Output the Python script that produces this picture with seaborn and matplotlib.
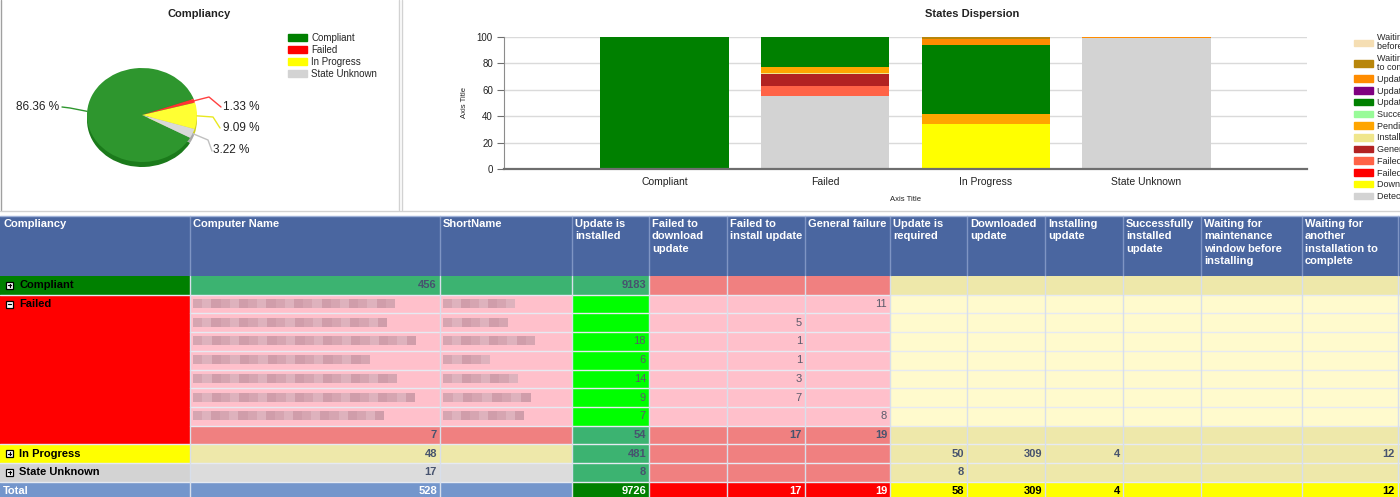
import numpy as np
import pandas as pd
import seaborn as sns
import matplotlib.pyplot as plt
from matplotlib.patches import Rectangle, Patch

# ---------------- data ----------------
groups = ['Compliant', 'Failed', 'In Progress', 'State Unknown']
group_computers = [456, 7, 48, 17]
group_colors = ['#008000', '#FF0000', '#FFFF00', '#D3D3D3']
pie_colors = ['#2E962E', '#FF3333', '#FFFF33', '#D9D9D9']
pie_rim_colors = ['#1B7A1B', '#C41E1E', '#CFCF1F', '#A8A8A8']

# states in stacking order (bottom -> top); legend shows them reversed
states = ['Detection state unknown', 'Downloaded update', 'Failed to download update',
          'Failed to install update', 'General failure', 'Installing update',
          'Pending system restart', 'Successfully installed update', 'Update is installed',
          'Update is not required', 'Update is required',
          'Waiting for another installation\nto complete',
          'Waiting for maintenance window\nbefore installing']
state_colors = ['#D3D3D3', '#FFFF00', '#FF0000', '#FF6347', '#B22222', '#F0E68C',
                '#FFA500', '#98FB98', '#008000', '#800080', '#FF8C00', '#B8860B', '#F5DEB3']
pct_compliant = [0, 0, 0, 0, 0, 0, 0, 0, 100, 0, 0, 0, 0]
pct_failed = [55.5, 0, 0, 7.5, 9, 1, 4, 0, 23, 0, 0, 0, 0]
pct_in_progress = [0, 33.8, 0, 0, 0, 0, 8, 0, 52, 0, 4.5, 1.7, 0]
pct_unknown = [99.6, 0, 0, 0, 0, 0, 0, 0, 0, 0, 0.4, 0, 0]

table_header = ['Compliancy', 'Computer Name', 'ShortName', 'Update is\ninstalled',
                'Failed to\ndownload\nupdate', 'Failed to\ninstall update', 'General failure',
                'Update is\nrequired', 'Downloaded\nupdate', 'Installing\nupdate',
                'Successfully\ninstalled\nupdate', 'Waiting for\nmaintenance\nwindow before\ninstalling',
                'Waiting for\nanother\ninstallation to\ncomplete']
N = None
compliant_vals = [9183, N, N, N, N, N, N, N, N, N]
failed_detail_vals = [
    [N, N, N, 11, N, N, N, N, N, N],
    [N, N, 5, N, N, N, N, N, N, N],
    [18, N, 1, N, N, N, N, N, N, N],
    [6, N, 1, N, N, N, N, N, N, N],
    [14, N, 3, N, N, N, N, N, N, N],
    [9, N, 7, N, N, N, N, N, N, N],
    [7, N, N, 8, N, N, N, N, N, N],
]
failed_total_vals = [54, N, 17, 19, N, N, N, N, N, N]
in_progress_vals = [481, N, N, N, 50, 309, 4, N, N, 12]
unknown_vals = [8, N, N, N, 8, N, N, N, N, N]
total_vals = [9726, N, 17, 19, 58, 309, 4, N, N, 12]
total_computers = 528
# widths (px) of the blurred computer names / short names
redacted_name_px = [202, 194, 223, 177, 204, 222, 191]
redacted_short_px = [72, 65, 92, 47, 75, 88, 81]

# ---------------- style ----------------
sns.set_theme(style='white')
plt.rcParams['font.family'] = ['Liberation Sans', 'DejaVu Sans']
NARROW = ['Liberation Sans Narrow', 'Liberation Sans', 'DejaVu Sans']
W, H = 1400, 497

fig = plt.figure(figsize=(W / 100, H / 100), dpi=100)
fig.patch.set_facecolor('white')

# overlay axes in pixel units (borders + table)
ov = fig.add_axes([0, 0, 1, 1])
ov.set_xlim(0, W)
ov.set_ylim(H, 0)
ov.axis('off')

# panel borders
ov.plot([0.5, 0.5], [0, 210], color='#A0A0A0', lw=1)
ov.plot([399, 399], [0, 210], color='#D2D2D2', lw=1)
ov.plot([401.5, 401.5], [0, 210], color='#D2D2D2', lw=1)
ov.plot([0, W], [210.5, 210.5], color='#D2D2D2', lw=1)

# ---------------- table ----------------
col_edges = [0, 190, 440, 572, 649, 727, 805, 890, 967, 1045, 1123, 1201, 1302, 1398]
head_top, head_bot, rh = 216, 276, 18.7
TF = dict(fontsize=8, family=['Liberation Sans', 'DejaVu Sans'])


def cell(x0, x1, y0, y1, color, z=1):
    ov.add_patch(Rectangle((x0, y0), x1 - x0, y1 - y0, facecolor=color, edgecolor='none', zorder=z))


cell(0, W, head_top, head_bot, '#4A66A0')
for i, lab in enumerate(table_header):
    ov.text(col_edges[i] + 3, head_top + 3, lab, color='white', fontweight='bold', va='top',
            ha='left', linespacing=1.3, zorder=5, **TF)
for x in col_edges[1:]:
    ov.plot([x, x], [head_top, head_bot], color='#7F95C4', lw=1, zorder=3)

col_kind = ['ok', 'fail', 'fail', 'fail', 'prog', 'prog', 'prog', 'prog', 'prog', 'prog']
fills = {
    'summary': {'ok': '#3CB371', 'fail': '#F08080', 'prog': '#EEE8AA'},
    'detail': {'ok': '#00FF00', 'fail': '#FFC0CB', 'prog': '#FFFACD'},
}
row_kinds = ['summary'] + ['detail'] * 7 + ['summary'] * 3
row_vals = [compliant_vals] + failed_detail_vals + [failed_total_vals, in_progress_vals, unknown_vals]
row_counts = [group_computers[0]] + [None] * 7 + group_computers[1:]
name_fill = ['#3CB371'] + ['#FFC0CB'] * 7 + ['#F08080', '#EEE8AA', '#DCDCDC']
group_span = [(0, 1), (1, 9), (9, 10), (10, 11)]

for r, (kind, vals) in enumerate(zip(row_kinds, row_vals)):
    y0, y1 = head_bot + r * rh, head_bot + (r + 1) * rh
    cy = (y0 + y1) / 2
    cell(col_edges[1], col_edges[3], y0, y1, name_fill[r])
    if row_counts[r] is not None:
        ov.text(col_edges[2] - 3, cy, str(row_counts[r]), ha='right', va='center',
                color='#47536E', fontweight='bold', zorder=5, **TF)
    for j, v in enumerate(vals):
        x0 = col_edges[3 + j]
        x1 = W if 4 + j == len(col_edges) - 1 else col_edges[4 + j]
        cell(x0, x1, y0, y1, fills[kind][col_kind[j]])
        if v is not None:
            ov.text(col_edges[4 + j] - 3, cy, str(v), ha='right', va='center', zorder=5,
                    color='#47536E' if kind == 'summary' else '#5A5A6A',
                    fontweight='bold' if kind == 'summary' else 'normal', **TF)
    if kind == 'detail':
        k = r - 1
        for x_start, width in [(col_edges[1] + 3, redacted_name_px[k]), (col_edges[2] + 3, redacted_short_px[k])]:
            n_blocks = int(width // 9)
            for b in range(n_blocks):
                shade = ['#D6A5B1', '#DEB2BD', '#D09DAA'][b % 3]
                cell(x_start + b * width / n_blocks, x_start + (b + 1) * width / n_blocks,
                     cy - 5, cy + 4, shade, z=2)
    # horizontal grid line (not across the merged Compliancy cell)
    ov.plot([col_edges[1], W], [y1, y1], color='#E6EAF2', lw=1, zorder=3)

# Compliancy merged cells
for g, (a, b) in enumerate(group_span):
    y0, y1 = head_bot + a * rh, head_bot + b * rh
    cell(0, col_edges[1], y0, y1, group_colors[g])
    cy = y0 + rh / 2
    ov.add_patch(Rectangle((6, cy - 3.5), 7, 7, facecolor='white', edgecolor='black', lw=0.9, zorder=4))
    ov.plot([7.8, 11.2], [cy, cy], color='black', lw=0.9, zorder=5)
    if g != 1:
        ov.plot([9.5, 9.5], [cy - 1.8, cy + 1.8], color='black', lw=0.9, zorder=5)
    ov.text(19, cy, groups[g], ha='left', va='center', color='black', fontweight='bold', zorder=5, **TF)
    ov.plot([0, col_edges[1]], [y1, y1], color='#E6EAF2', lw=1, zorder=3)

# total row
ty0 = head_bot + 11 * rh
cell(0, col_edges[3], ty0, H + 2, '#7496CC')
ov.text(3, ty0 + rh / 2, 'Total', ha='left', va='center', color='white', fontweight='bold', zorder=5, **TF)
ov.text(col_edges[2] - 3, ty0 + rh / 2, str(total_computers), ha='right', va='center',
        color='white', fontweight='bold', zorder=5, **TF)
total_fill = {'ok': '#008000', 'fail': '#FF0000', 'prog': '#FFFF00'}
total_text = {'ok': 'white', 'fail': 'white', 'prog': 'black'}
for j, v in enumerate(total_vals):
    x0 = col_edges[3 + j]
    x1 = W if 4 + j == len(col_edges) - 1 else col_edges[4 + j]
    cell(x0, x1, ty0, H + 2, total_fill[col_kind[j]])
    if v is not None:
        ov.text(col_edges[4 + j] - 3, ty0 + rh / 2, str(v), ha='right', va='center', zorder=5,
                color=total_text[col_kind[j]], fontweight='bold', **TF)

# vertical grid lines of the body
for x in col_edges[1:]:
    ov.plot([x, x], [head_bot, H], color='#D8DFEB', lw=1, zorder=3)
ov.plot([0, W], [head_top, head_top], color='#9FB2D8', lw=1, zorder=3)

# ---------------- pie ----------------
PCX, PCY, PRX, PRY = 142, 115, 55, 47


def pie_xy(px, py):
    return (px - PCX) / PRX, (PCY - py) / PRY


ax_pie = fig.add_axes([0, 1 - 210 / H, 398 / W, 210 / H])
ax_pie.pie(group_computers, colors=pie_rim_colors, startangle=-29, counterclock=False,
           center=(0, -5 / PRY), wedgeprops=dict(linewidth=0))
wedges, _ = ax_pie.pie(group_computers, colors=pie_colors, startangle=-29, counterclock=False,
                       wedgeprops=dict(linewidth=0))
ax_pie.set_aspect('auto')
ax_pie.set_xlim(pie_xy(0, 0)[0], pie_xy(398, 0)[0])
ax_pie.set_ylim(pie_xy(0, 210)[1], pie_xy(0, 0)[1])
ax_pie.axis('off')

label_layout = [
    dict(elbow=(70, 108), end=(62, 107), text=(59, 107), ha='right', line='#2E962E'),
    dict(elbow=(209, 97), end=(221, 107), text=(223, 107), ha='left', line='#FF4040'),
    dict(elbow=(213, 117), end=(220, 128), text=(223, 128), ha='left', line='#E8E820'),
    dict(elbow=(208, 140), end=(212, 151), text=(213, 150), ha='left', line='#C0C0C0'),
]
total = sum(group_computers)
for w, n, lay in zip(wedges, group_computers, label_layout):
    th = np.deg2rad((w.theta1 + w.theta2) / 2)
    anchor = (np.cos(th), np.sin(th))
    pts = [anchor, pie_xy(*lay['elbow']), pie_xy(*lay['end'])]
    ax_pie.plot([p[0] for p in pts], [p[1] for p in pts], color=lay['line'], lw=1)
    tx, ty = pie_xy(*lay['text'])
    ax_pie.text(tx, ty, f'{n / total * 100:.2f} %', ha=lay['ha'], va='center',
                fontsize=8.5, family=NARROW, color='#222222')

fig.text(199 / W, 1 - 14 / H, 'Compliancy', ha='center', va='center', fontsize=8,
         fontweight='bold', color='#222222')
leg1 = ax_pie.legend([Patch(color=c) for c in group_colors], groups, loc='upper left',
                     bbox_to_anchor=(288 / W, 1 - 33 / H), bbox_transform=fig.transFigure,
                     frameon=False, handlelength=2.0, handleheight=0.7,
                     handletextpad=0.4, labelspacing=0.2, borderpad=0, borderaxespad=0,
                     prop=dict(family=NARROW, size=7))

# ---------------- stacked bars ----------------
bar_df = pd.DataFrame({'Compliant': pct_compliant, 'Failed': pct_failed,
                       'In Progress': pct_in_progress, 'State Unknown': pct_unknown}, index=states)
cum = bar_df.cumsum()
ax_bar = fig.add_axes([504 / W, 1 - 169 / H, (1307 - 504) / W, (169 - 37) / H])
for state, color in reversed(list(zip(states, state_colors))):
    d = pd.DataFrame({'group': groups, 'top': cum.loc[state, groups].values})
    sns.barplot(data=d, x='group', y='top', order=groups, color=color, saturation=1,
                width=0.8, linewidth=0, errorbar=None, ax=ax_bar, zorder=2)
ax_bar.set_xlim(-1, 4)
ax_bar.set_ylim(0, 100)
ax_bar.set_yticks([0, 20, 40, 60, 80, 100])
ax_bar.set_axisbelow(True)
ax_bar.yaxis.grid(True, color='#DADADA', lw=1)
for s in ['top', 'right']:
    ax_bar.spines[s].set_visible(False)
ax_bar.spines['left'].set_color('#8C8C8C')
ax_bar.spines['left'].set_linewidth(0.8)
ax_bar.spines['bottom'].set_color('#6E6E6E')
ax_bar.spines['bottom'].set_linewidth(1.6)
ax_bar.tick_params(axis='y', length=5, width=0.8, color='#6E6E6E', labelsize=7, pad=3,
                   left=True, labelcolor='#222222')
ax_bar.tick_params(axis='x', length=0, labelsize=7.5, pad=6, labelcolor='#222222')
ax_bar.set_xlabel('Axis Title', fontsize=5.5, labelpad=6, color='#222222')
ax_bar.set_ylabel('Axis Title', fontsize=5.5, labelpad=6, color='#222222')
ax_bar.set_facecolor('white')

fig.text(972 / W, 1 - 14 / H, 'States Dispersion', ha='center', va='center', fontsize=8,
         fontweight='bold', color='#222222')
leg2 = ax_bar.legend([Patch(color=c) for c in state_colors[::-1]], states[::-1], loc='upper left',
                     bbox_to_anchor=(1354 / W, 1 - 33.5 / H), bbox_transform=fig.transFigure,
                     frameon=False, handlelength=2.1, handleheight=0.75, handletextpad=0.4,
                     labelspacing=0.3, borderpad=0, borderaxespad=0,
                     prop=dict(family=NARROW, size=6.5))
for t in leg2.get_texts():
    t.set_linespacing(1.0)

fig.savefig('out.png', dpi=100)
